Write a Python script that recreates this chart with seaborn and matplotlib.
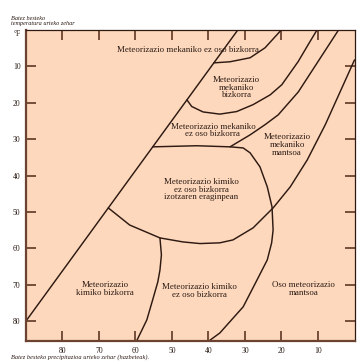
import numpy as np
import pandas as pd
import seaborn as sns
import matplotlib.pyplot as plt

# precipitation (inches, axis reversed) / mean annual temperature (F, grows downward)
diag_x = [90, 32]
diag_y = [80, 0]

upper_x = [38.5, 34.1, 28.6, 24.5, 20.1]
upper_y = [9.0, 8.7, 7.6, 4.85, 0]

lower_x = [45.9, 44.6, 41.5, 36.9, 32.3, 27.8, 23.1, 19.9, 15.4, 12.7, 10.3]
lower_y = [19.2, 21.0, 22.5, 23.1, 22.4, 20.5, 17.8, 15.0, 8.6, 4.0, 0]

mod_x = [4.4, 15.4, 20.9, 24.5, 28.6, 34.1]
mod_y = [0, 17.0, 23.3, 26.0, 28.8, 32.1]

frost_x = [0, 8.0, 12.95, 17.6, 22.3, 27.8, 33.3, 36.9, 42.35, 47.0, 53.3, 61.6, 67.45]
frost_y = [8.2, 26.0, 35.7, 43.1, 48.9, 54.4, 57.7, 58.5, 58.7, 58.25, 57.15, 53.6, 48.9]

chem_x = [55.3, 43.2, 34.1, 30.5, 28.6, 25.9, 23.9, 22.6, 22.3, 22.7, 23.9, 26.7, 30.5, 36.9, 39.9]
chem_y = [32.1, 31.8, 32.1, 32.4, 33.75, 37.6, 43.1, 48.6, 55.0, 58.5, 63.2, 68.7, 76.1, 83.3, 85.5]

split_x = [53.3, 52.9, 53.3, 53.9, 55.3, 56.9, 59.7]
split_y = [57.15, 61.8, 66.0, 69.3, 74.2, 79.7, 85.5]

labels = [
    "Meteorizazio mekaniko ez oso bizkorra",
    "Meteorizazio\nmekaniko\nbizkorra",
    "Meteorizazio mekaniko\nez oso bizkorra",
    "Meteorizazio\nmekaniko\nmantsoa",
    "Meteorizazio kimiko\nez oso bizkorra\nizotzaren eraginpean",
    "Meteorizazio\nkimiko bizkorra",
    "Meteorizazio kimiko\nez oso bizkorra",
    "Oso meteorizazio\nmantsoa",
]
label_x = [45.6, 32.3, 38.8, 18.5, 41.9, 68.3, 42.35, 14.05]
label_y = [5.4, 15.8, 27.6, 31.6, 43.9, 71.2, 71.7, 71.2]

x_ticks = [80, 70, 60, 50, 40, 30, 20, 10]
y_ticks = [10, 20, 30, 40, 50, 60, 70, 80]

curves = {
    "diag": (diag_x, diag_y), "upper": (upper_x, upper_y),
    "lower": (lower_x, lower_y), "mod": (mod_x, mod_y),
    "frost": (frost_x, frost_y), "chem": (chem_x, chem_y),
    "split": (split_x, split_y),
}
df = pd.concat([pd.DataFrame({"curve": k, "precip": v[0], "temp": v[1],
                              "order": range(len(v[0]))})
                for k, v in curves.items()], ignore_index=True)

sns.set_theme(style="ticks")
plt.rcParams["font.family"] = ["Liberation Serif", "DejaVu Serif"]

line_col = "#2e1a12"
tick_col = "#6b4330"

fig = plt.figure(figsize=(3.61, 3.63), dpi=100)
ax = fig.add_axes([0.072, 0.0606, 0.910, 0.8564])
ax.set_facecolor("#fdd8bc")

sns.lineplot(data=df, x="precip", y="temp", units="curve", estimator=None,
             sort=False, color=line_col, lw=1.05, ax=ax, legend=False)

for t, x, y in zip(labels, label_x, label_y):
    ax.text(x, y, t, ha="center", va="center", fontsize=6.4, color="#2a1a14",
            linespacing=0.95)

ax.set_xlim(90, 0)
ax.set_ylim(85.5, 0)
ax.set_xticks(x_ticks)
ax.set_yticks(y_ticks)
ax.set_xlabel("")
ax.set_ylabel("")
ax.tick_params(direction="in", length=7, width=1.3, color=tick_col,
               labelsize=5.5, labelcolor="#2a1a14", top=True, right=True,
               pad=4)
for s in ax.spines.values():
    s.set_color(line_col)
    s.set_linewidth(0.9)
ax.spines["left"].set_color(tick_col)
ax.spines["left"].set_linewidth(1.6)
ax.spines["bottom"].set_color(tick_col)
ax.spines["bottom"].set_linewidth(1.6)

fig.text(14 / 361, 1 - 34 / 363, "°F", fontsize=5.5, ha="left", va="center",
         color="#2a1a14")
fig.text(11 / 361, 1 - 21.5 / 363, "Batez besteko\ntemperatura urteko zehar",
         fontsize=4.5, style="italic", ha="left", va="center", color="#2a1a14",
         linespacing=1.0)
fig.text(11 / 361, 1 - 357 / 363,
         "Batez besteko precipitazioa urteko zehar (hazbeteak).",
         fontsize=4.6, style="italic", ha="left", va="center", color="#2a1a14")

fig.savefig("out.png", dpi=100, facecolor="white")
